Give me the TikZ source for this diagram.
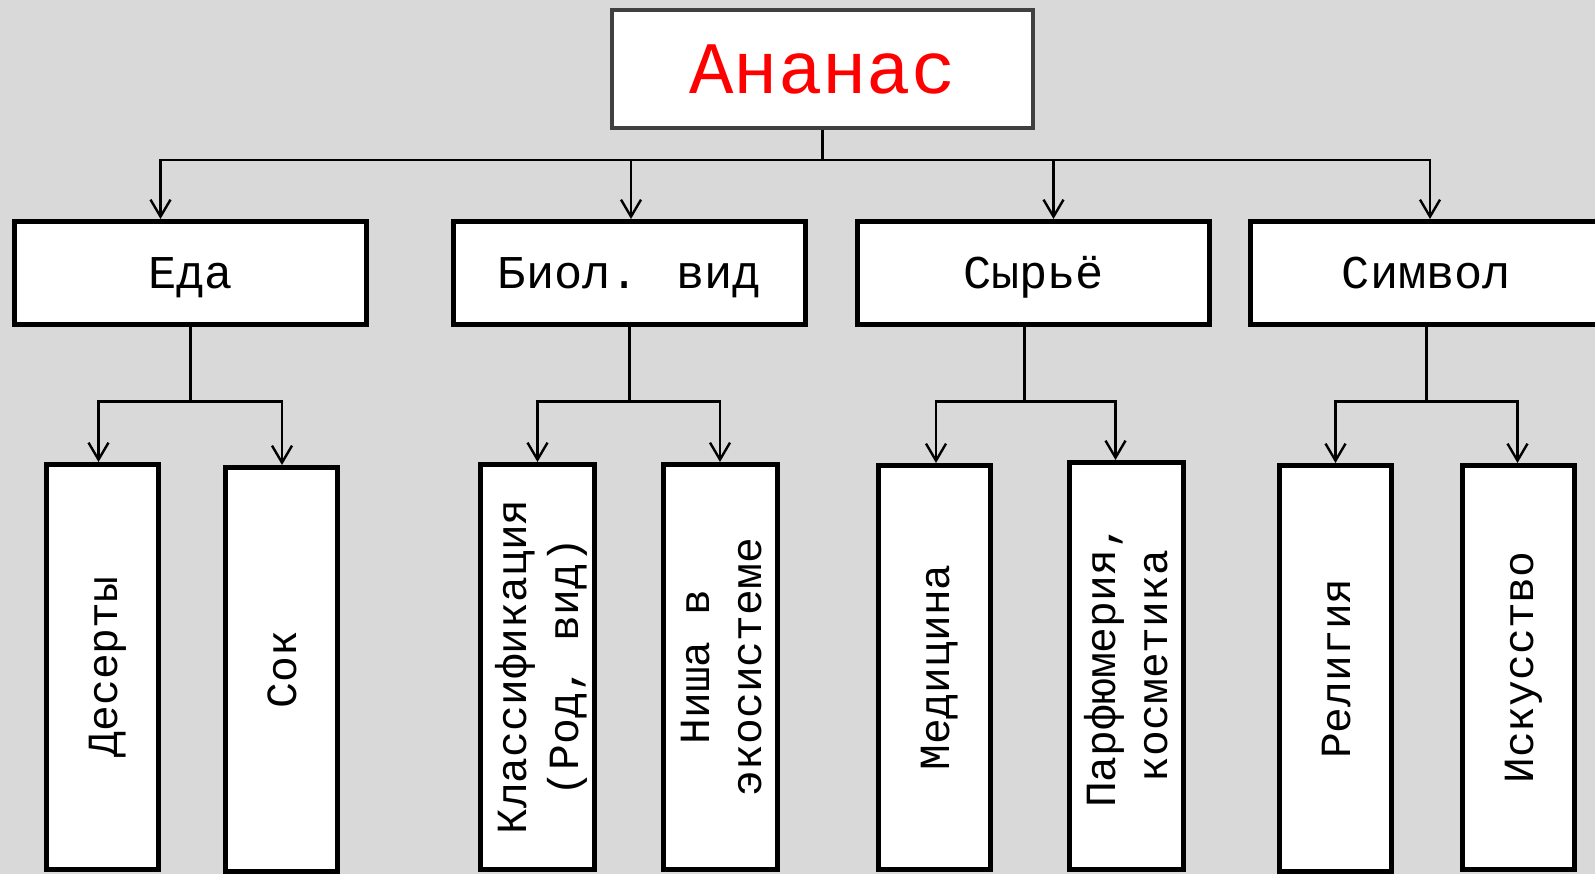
\documentclass[tikz,border=0pt]{standalone}
\usepackage{fontspec}
\setmainfont{Liberation Mono}
\usetikzlibrary{arrows.meta}
\definecolor{bgc}{HTML}{D9D9D9}
\definecolor{topc}{HTML}{404040}
\definecolor{titlec}{HTML}{FF0000}
\begin{document}
\begin{tikzpicture}[x=1pt,y=-1pt,
  topbox/.style={draw=topc, fill=white, line width=4pt, inner sep=0pt,
    minimum width=421pt, minimum height=118pt, text=titlec,
    font=\fontsize{74}{80}\selectfont, text height=50pt, text depth=0pt},
  midbox/.style={draw=black, fill=white, line width=5pt, inner sep=0pt,
    minimum width=352pt, minimum height=103pt,
    font=\fontsize{47}{56}\selectfont, text height=32pt, text depth=0pt},
  leafbox/.style={draw=black, fill=white, line width=5pt, inner sep=0pt,
    minimum width=112pt, font=\fontsize{43}{52}\selectfont},
  conn/.style={draw=black, line width=2.4pt},
  arr/.style={conn, -{Straight Barb[length=17pt,width=20pt]}}]
\useasboundingbox (0,0) rectangle (1595,874);
\clip (0,0) rectangle (1595,874);
\fill[bgc] (0,0) rectangle (1595,874);

% top
\node[topbox] (top) at (822.5,69) {Ананас};

% level 2
\node[midbox] (eda) at (190.5,273) {Еда};
\node[midbox] (biol) at (629.5,273) {Биол. вид};
\node[midbox] (syr) at (1033.5,273) {Сырьё};
\node[midbox] (sym) at (1426.5,273) {Символ};

% level 3
\newcommand{\vtext}[1]{\kern10pt\rotatebox{90}{\begin{tabular}{@{}c@{}}#1\end{tabular}}}
\node[leafbox, minimum height=405pt] (des) at (102,667) {\vtext{Десерты}};
\node[leafbox, minimum height=404pt] (sok) at (281.5,669.5) {\vtext{Сок}};
\node[leafbox, minimum height=405pt] (kla) at (537,667) {\vtext{Классификация\\(Род, вид)}};
\node[leafbox, minimum height=405pt] (nis) at (720,667) {\vtext{Ниша в\\экосистеме}};
\node[leafbox, minimum height=404pt] (med) at (934,667.5) {\vtext{Медицина}};
\node[leafbox, minimum height=407pt] (par) at (1126.5,666) {\vtext{Парфюмерия,\\косметика}};
\node[leafbox, minimum height=406pt] (rel) at (1335.5,668.5) {\vtext{Религия}};
\node[leafbox, minimum height=404pt] (isk) at (1518,667.5) {\vtext{Искусство}};

% bus coordinates
\coordinate (b0L) at (160.5,160);
\coordinate (b0a) at (631,160);
\coordinate (b0b) at (1053.5,160);
\coordinate (b0R) at (1430,160);

\coordinate (s3) at (1024.5,0);

\coordinate (b1L) at (98.5,401.5);
\coordinate (b1R) at (282,401.5);
\coordinate (b2L) at (537.5,401.5);
\coordinate (b2R) at (720,401.5);
\coordinate (b3L) at (936,401.5);
\coordinate (b3R) at (1115.5,401.5);
\coordinate (b4L) at (1335.5,401.5);
\coordinate (b4R) at (1517.5,401.5);

% top connectors
\draw[arr] (top.south) |- (b0L) -- (b0L |- eda.north);
\draw[arr] (top.south) |- (b0R) -- (b0R |- sym.north);
\draw[arr] (b0a) -- (b0a |- biol.north);
\draw[arr] (b0b) -- (b0b |- syr.north);

% level 2 connectors
\draw[arr] (eda.south) |- (b1L) -- (b1L |- des.north);
\draw[arr] (eda.south) |- (b1R) -- (b1R |- sok.north);
\draw[arr] (biol.south) |- (b2L) -- (b2L |- kla.north);
\draw[arr] (biol.south) |- (b2R) -- (b2R |- nis.north);
\draw[arr] (s3 |- syr.south) |- (b3L) -- (b3L |- med.north);
\draw[arr] (s3 |- syr.south) |- (b3R) -- (b3R |- par.north);
\draw[arr] (sym.south) |- (b4L) -- (b4L |- rel.north);
\draw[arr] (sym.south) |- (b4R) -- (b4R |- isk.north);
\end{tikzpicture}
\end{document}
